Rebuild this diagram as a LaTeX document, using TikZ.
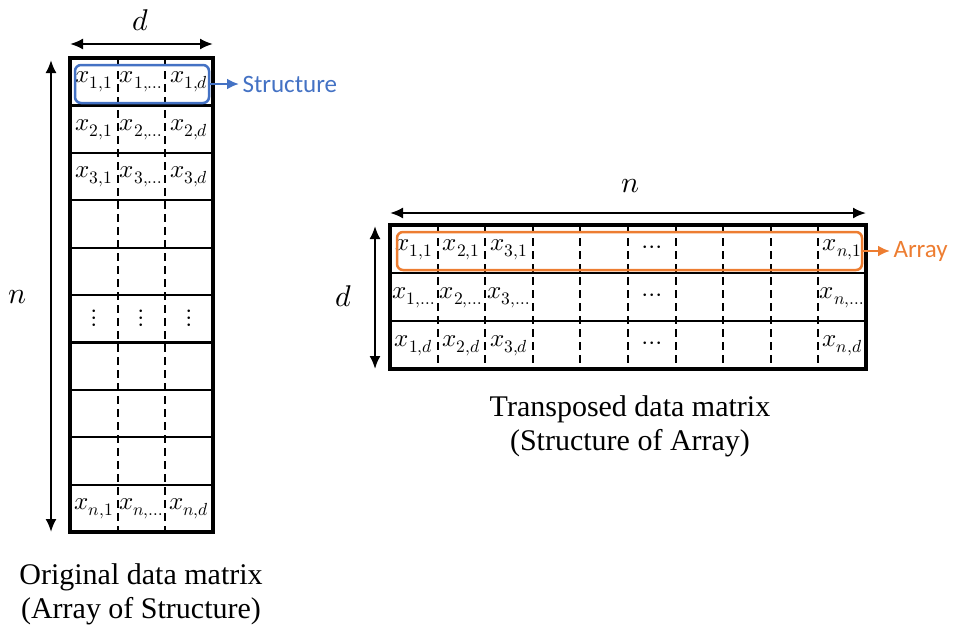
\documentclass[tikz,border=0pt]{standalone}
\usepackage{unicode-math}
\setmainfont{Liberation Serif}
\setmathfont{Latin Modern Math}
\newfontfamily\tagfont{Carlito}
\usetikzlibrary{arrows.meta}
\definecolor{structblue}{HTML}{4472C4}
\definecolor{arrayorange}{HTML}{ED7D31}
\begin{document}
\begin{tikzpicture}[x=1pt,y=-1pt]

  \tikzstyle{cell}=[inner sep=0pt, font=\fontsize{25}{28}\selectfont]

  \tikzstyle{outer}=[draw, line width=4.5pt]

  \tikzstyle{rowline}=[draw, line width=2.2pt]

  \tikzstyle{colline}=[draw, line width=2pt, dash pattern=on 8pt off 5pt]

  \tikzstyle{dimArrow}=[{Latex[length=13pt,width=11pt]}-{Latex[length=13pt,width=11pt]}, draw, line width=2pt]

  \tikzstyle{dimLabel}=[font=\fontsize{30}{32}\selectfont]

  \tikzstyle{caption}=[font=\fontsize{30}{34}\selectfont, align=center]

  \tikzstyle{groupBox}=[draw, line width=2.5pt, rounded corners=6pt, inner sep=0pt]

  \tikzstyle{tagArrow}=[-{Latex[length=12pt,width=11pt]}, draw, line width=2.8pt]

\useasboundingbox (0,0) rectangle (960,632);

%% original data matrix (array of structure)

\draw[outer] (70,58) rectangle (213,532);

\foreach \k in {1,...,9}
  \draw[rowline] (70,58+47.4*\k) -- (213,58+47.4*\k);

\foreach \c in {117.7,165.3}
  \draw[colline] (\c,58) -- (\c,532);

\node (a11)[cell] at (94,82) {$x_{1,1}$};
\node (a12)[cell] at (141.5,82) {$x_{1,\dots}$};
\node (a13)[cell] at (189,82) {$x_{1,d}$};
\node (a21)[cell] at (94,129.4) {$x_{2,1}$};
\node (a22)[cell] at (141.5,129.4) {$x_{2,\dots}$};
\node (a23)[cell] at (189,129.4) {$x_{2,d}$};
\node (a31)[cell] at (94,176.8) {$x_{3,1}$};
\node (a32)[cell] at (141.5,176.8) {$x_{3,\dots}$};
\node (a33)[cell] at (189,176.8) {$x_{3,d}$};
\node (av1)[cell] at (94,318.7) {$\vdots$};
\node (av2)[cell] at (141.5,318.7) {$\vdots$};
\node (av3)[cell] at (189,318.7) {$\vdots$};
\node (an1)[cell] at (94,508.6) {$x_{n,1}$};
\node (an2)[cell] at (141.5,508.6) {$x_{n,\dots}$};
\node (an3)[cell] at (189,508.6) {$x_{n,d}$};

\coordinate (dL) at (70,44);
\coordinate (dR) at (213,44);
\coordinate (nT) at (51,60);
\coordinate (nB) at (51,532);

\node (dA)[dimLabel] at (141,20) {$d$};
\node (nA)[dimLabel] at (18,297) {$n$};

\path (dL) edge[dimArrow] (dR)
      (nT) edge[dimArrow] (nB);

\node (strBox)[groupBox, structblue, minimum width=134pt, minimum height=38pt] at (142,84) {};
\node (strTag)[anchor=west, text=structblue, font=\tagfont\fontsize{25}{28}\selectfont] at (239,84) {Structure};

\path (strBox.east) edge[tagArrow, structblue] (strTag.west);

\node (capA)[caption] at (141,594) {Original data matrix\\(Array of Structure)};

%% transposed data matrix (structure of array)

\draw[outer] (390,225) rectangle (866,369);

\foreach \k in {1,2}
  \draw[rowline] (390,225+48*\k) -- (866,225+48*\k);

\foreach \k in {1,...,9}
  \draw[colline] (390+47.6*\k,225) -- (390+47.6*\k,369);

\node (b11)[cell] at (413.8,249.5) {$x_{1,1}$};
\node (b21)[cell] at (461.4,249.5) {$x_{2,1}$};
\node (b31)[cell] at (509,249.5) {$x_{3,1}$};
\node (bh1)[cell] at (652,249.5) {$\cdots$};
\node (bn1)[cell] at (842.2,249.5) {$x_{n,1}$};
\node (b12)[cell] at (413.8,297.5) {$x_{1,\dots}$};
\node (b22)[cell] at (461.4,297.5) {$x_{2,\dots}$};
\node (b32)[cell] at (509,297.5) {$x_{3,\dots}$};
\node (bh2)[cell] at (652,297.5) {$\cdots$};
\node (bn2)[cell] at (842.2,297.5) {$x_{n,\dots}$};
\node (b13)[cell] at (413.8,345.5) {$x_{1,d}$};
\node (b23)[cell] at (461.4,345.5) {$x_{2,d}$};
\node (b33)[cell] at (509,345.5) {$x_{3,d}$};
\node (bh3)[cell] at (652,345.5) {$\cdots$};
\node (bn3)[cell] at (842.2,345.5) {$x_{n,d}$};

\coordinate (nL) at (390,213);
\coordinate (nR) at (866,213);
\coordinate (dT) at (375,226);
\coordinate (dB) at (375,369);

\node (nBl)[dimLabel] at (630,186) {$n$};
\node (dBl)[dimLabel] at (344,296) {$d$};

\path (nL) edge[dimArrow] (nR)
      (dT) edge[dimArrow] (dB);

\node (arrBox)[groupBox, arrayorange, minimum width=465pt, minimum height=38pt] at (629.5,251) {};
\node (arrTag)[anchor=west, text=arrayorange, font=\tagfont\fontsize{25}{28}\selectfont] at (890,251) {Array};

\path (arrBox.east) edge[tagArrow, arrayorange] (arrTag.west);

\node (capB)[caption] at (630,426) {Transposed data matrix\\(Structure of Array)};

\end{tikzpicture}
\end{document}
